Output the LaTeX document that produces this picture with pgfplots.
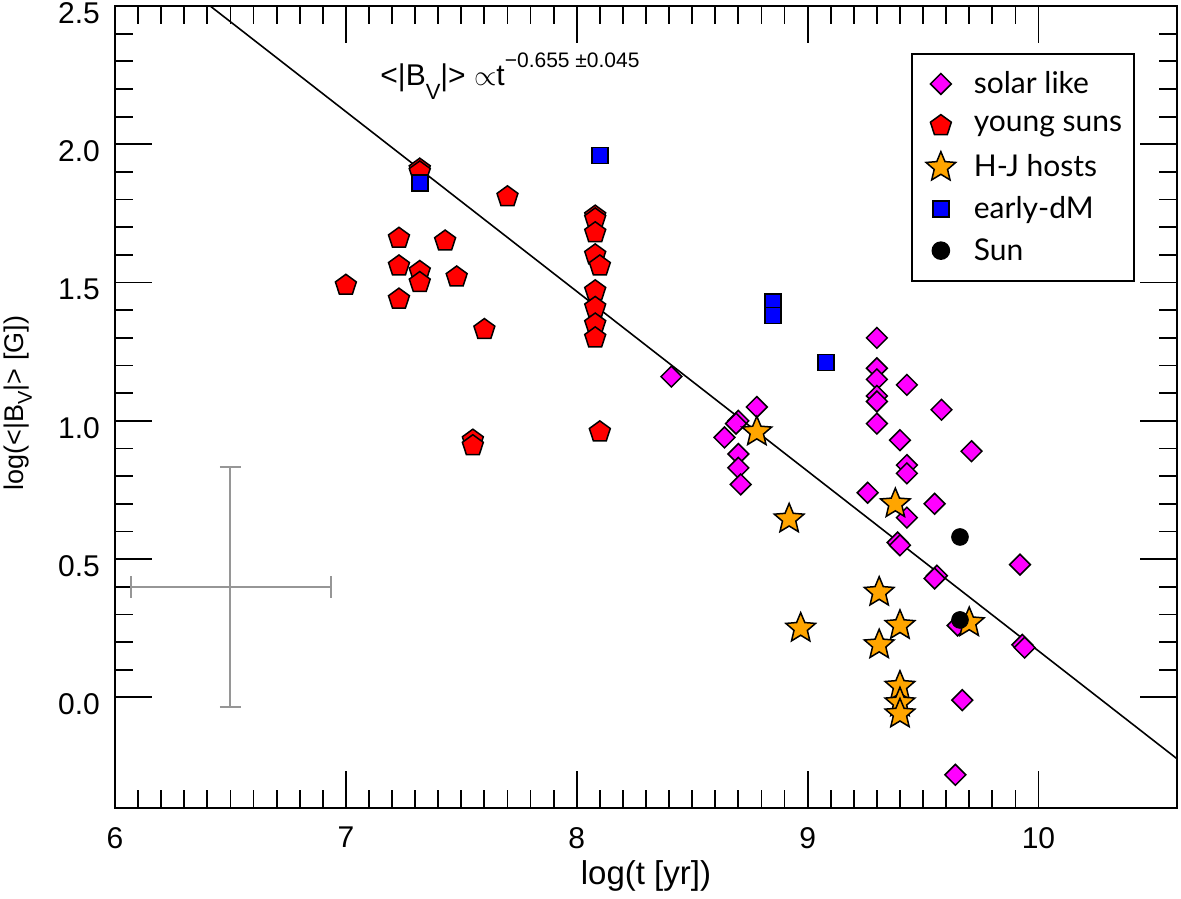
\documentclass[border=0pt]{standalone}
\usepackage{fontspec}
\setmainfont{Liberation Sans}
\newfontfamily\legendfont{Lato}
\usepackage{pgfplots}
\pgfplotsset{compat=1.18}

\definecolor{magS}{RGB}{255,0,255}
\definecolor{redS}{RGB}{255,0,0}
\definecolor{orgS}{RGB}{255,165,0}
\definecolor{bluS}{RGB}{0,0,255}
\definecolor{errG}{RGB}{150,150,150}

\pgfdeclareplotmark{fstar}{%
 \pgfpathmoveto{\pgfpointpolar{90}{\pgfplotmarksize}}%
 \pgfpathlineto{\pgfpointpolar{126}{0.45\pgfplotmarksize}}%
 \pgfpathlineto{\pgfpointpolar{162}{\pgfplotmarksize}}%
 \pgfpathlineto{\pgfpointpolar{198}{0.45\pgfplotmarksize}}%
 \pgfpathlineto{\pgfpointpolar{234}{\pgfplotmarksize}}%
 \pgfpathlineto{\pgfpointpolar{270}{0.45\pgfplotmarksize}}%
 \pgfpathlineto{\pgfpointpolar{306}{\pgfplotmarksize}}%
 \pgfpathlineto{\pgfpointpolar{342}{0.45\pgfplotmarksize}}%
 \pgfpathlineto{\pgfpointpolar{18}{\pgfplotmarksize}}%
 \pgfpathlineto{\pgfpointpolar{54}{0.45\pgfplotmarksize}}%
 \pgfpathclose
 \pgfusepathqfillstroke
}
\pgfdeclareplotmark{sdiamond}{%
 \pgfpathmoveto{\pgfqpoint{0pt}{\pgfplotmarksize}}%
 \pgfpathlineto{\pgfqpoint{\pgfplotmarksize}{0pt}}%
 \pgfpathlineto{\pgfqpoint{0pt}{-\pgfplotmarksize}}%
 \pgfpathlineto{\pgfqpoint{-\pgfplotmarksize}{0pt}}%
 \pgfpathclose
 \pgfusepathqfillstroke
}

\begin{document}
\begin{tikzpicture}
\useasboundingbox (-57.5pt,-45pt) rectangle (533pt,404pt);
\begin{axis}[
  at={(0pt,0pt)}, anchor=south west,
  scale only axis, width=531pt, height=401pt,
  xmin=6, xmax=10.6, ymin=-0.4, ymax=2.5,
  xtick={6,7,8,9,10}, ytick={0,0.5,1,1.5,2,2.5},
  minor x tick num=9, minor y tick num=4,
  tick align=inside, xtick pos=both, ytick pos=both,
  xticklabel pos=lower, yticklabel pos=left,
  major tick length=18.5pt, minor tick length=9pt,
  every tick/.style={black, line width=0.9pt},
  axis line style={line width=1pt},
  /pgf/number format/assume math mode=true,
  tick label style={font=\fontsize{15}{18}\selectfont},
  yticklabel style={xshift=-4pt, yshift=-3.5pt, /pgf/number format/.cd, fixed, fixed zerofill, precision=1},
  xticklabel style={yshift=-6pt},
  xlabel={log(t [yr])},
  xlabel style={at={(axis description cs:0.5,-0.096)}, anchor=base, font=\fontsize{16.5}{19}\selectfont},
  ylabel={log(<|B\raisebox{-4pt}{\fontsize{10}{12}\selectfont V}|> [G])},
  ylabel style={at={(axis description cs:-0.0913,0.505)}, anchor=center, font=\fontsize{13.5}{16}\selectfont},
  clip=true,
  legend style={at={(axis description cs:0.7495,0.9414)}, anchor=north west,
    draw=black, line width=0.9pt, inner xsep=6pt, inner ysep=4.6pt,
    row sep=0pt, font=\legendfont\fontsize{15}{17}\selectfont,
    cells={anchor=west}, nodes={inner sep=0pt}},
  legend image code/.code={%
    \path[draw=none, fill=none] (-8.5pt,-10.42pt) rectangle (16.5pt,10.42pt);
    \draw[#1] plot coordinates {(0pt,0pt)};},
]
% solar like
\addplot[only marks, mark=sdiamond, mark size=5.2pt, mark options={fill=magS, draw=black, line width=0.75pt}] coordinates {
(8.41,1.16) (8.78,1.05) (8.70,1.00) (8.69,0.99) (8.64,0.94) (8.70,0.88) (8.70,0.83) (8.71,0.77)
(9.30,1.30) (9.30,1.19) (9.30,1.15) (9.30,1.09) (9.30,1.07) (9.30,0.99)
(9.43,1.13) (9.58,1.04) (9.40,0.93) (9.71,0.89) (9.43,0.84) (9.43,0.81)
(9.26,0.74) (9.55,0.70) (9.43,0.65) (9.39,0.56) (9.40,0.55) (9.92,0.48)
(9.56,0.44) (9.55,0.43) (9.65,0.26) (9.93,0.19) (9.94,0.18) (9.67,-0.01) (9.64,-0.28)
};
\addlegendentry{solar like}
% young suns
\addplot[only marks, mark=pentagon*, mark size=5.5pt, mark options={fill=redS, draw=black, line width=0.75pt}] coordinates {
(7.32,1.91) (7.32,1.90) (7.70,1.81) (7.23,1.66) (7.43,1.65) (7.23,1.56) (7.32,1.54) (7.32,1.50)
(7.48,1.52) (7.00,1.49) (7.23,1.44) (7.60,1.33) (7.55,0.93) (7.55,0.91) (8.10,0.96)
(8.08,1.74) (8.08,1.73) (8.08,1.68) (8.08,1.60) (8.10,1.56) (8.08,1.47) (8.08,1.41) (8.08,1.35) (8.08,1.30)
};
\addlegendentry{young suns}
% H-J hosts
\addplot[only marks, mark=fstar, mark size=7.8pt, mark options={fill=orgS, draw=black, line width=0.75pt}] coordinates {
(8.78,0.96) (8.92,0.645) (9.38,0.70) (9.31,0.38) (8.97,0.25) (9.40,0.26) (9.31,0.19)
(9.70,0.27) (9.40,0.04) (9.40,-0.02) (9.40,-0.06)
};
\addlegendentry{H-J hosts}
% early-dM
\addplot[only marks, mark=square*, mark size=4pt, mark options={fill=bluS, draw=black, line width=0.75pt}] coordinates {
(7.32,1.86) (8.10,1.96) (8.85,1.43) (8.85,1.38) (9.08,1.21)
};
\addlegendentry{early-dM}
% Sun
\addplot[only marks, mark=*, mark size=4.2pt, mark options={fill=black, draw=black}] coordinates {
(9.66,0.58) (9.66,0.28)
};
\addlegendentry{Sun}
% fit line
\addplot[black, line width=0.8pt, forget plot] coordinates {(6.0,2.768) (10.6,-0.222)};
% error cross
\addplot[errG, line width=1pt, forget plot] coordinates {(6.069,0.40) (6.936,0.40)};
\addplot[errG, line width=1pt, forget plot] coordinates {(6.50,-0.034) (6.50,0.834)};
\addplot[errG, line width=1pt, forget plot] coordinates {(6.069,0.36) (6.069,0.44)};
\addplot[errG, line width=1pt, forget plot] coordinates {(6.936,0.36) (6.936,0.44)};
\addplot[errG, line width=1pt, forget plot] coordinates {(6.454,-0.034) (6.546,-0.034)};
\addplot[errG, line width=1pt, forget plot] coordinates {(6.454,0.834) (6.546,0.834)};
\node[anchor=base west, inner sep=0pt, font=\fontsize{15}{17}\selectfont] at (axis cs:7.148,2.211)
  {<|B\raisebox{-7pt}{\fontsize{11}{12}\selectfont V}|> $\propto$t\raisebox{9pt}{\fontsize{10.5}{12}\selectfont −0.655 ±0.045}};
\end{axis}
\end{tikzpicture}
\end{document}
